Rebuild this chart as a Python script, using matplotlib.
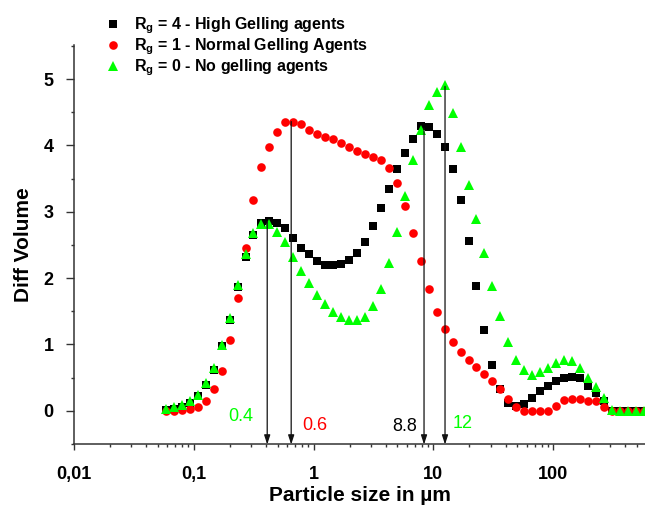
import numpy as np
import matplotlib
matplotlib.use("Agg")
import matplotlib.pyplot as plt
from matplotlib.lines import Line2D
from matplotlib.ticker import LogLocator, NullFormatter, FixedLocator, FixedFormatter, MultipleLocator

plt.rcParams["font.family"] = ["Liberation Sans", "DejaVu Sans"]
plt.rcParams["mathtext.fontset"] = "custom"
plt.rcParams["mathtext.rm"] = "Liberation Sans:bold"
plt.rcParams["mathtext.it"] = "Liberation Sans:bold"

# particle size bins (um)
size_um = [0.0586, 0.0683, 0.0796, 0.0927, 0.108, 0.126, 0.147, 0.171, 0.199, 0.232,
           0.271, 0.315, 0.367, 0.428, 0.499, 0.581, 0.678, 0.790, 0.920, 1.072,
           1.250, 1.456, 1.697, 1.978, 2.305, 2.685, 3.129, 3.647, 4.250, 4.953,
           5.771, 6.726, 7.838, 9.131, 10.64, 12.40, 14.45, 16.84, 19.63, 22.87,
           26.65, 31.05, 36.19, 42.17, 49.14, 57.27, 66.73, 77.76, 90.62, 105.6,
           123.1, 143.4, 167.1, 194.8, 226.9, 264.5, 308.2, 359.2, 418.5, 487.7,
           568.3]

rg4_high = [0.01, 0.03, 0.06, 0.12, 0.22, 0.38, 0.62, 0.97, 1.37, 1.86,
            2.32, 2.65, 2.83, 2.86, 2.83, 2.75, 2.60, 2.45, 2.36, 2.26,
            2.20, 2.19, 2.21, 2.27, 2.38, 2.55, 2.78, 3.05, 3.35, 3.64,
            3.89, 4.09, 4.29, 4.28, 4.17, 3.97, 3.65, 3.17, 2.56, 1.88,
            1.22, 0.69, 0.32, 0.11, 0.07, 0.10, 0.19, 0.29, 0.37, 0.44,
            0.49, 0.51, 0.49, 0.37, 0.26, 0.14, 0.0, 0.0, 0.0, 0.0,
            0.0]

rg1_normal = [0.0, 0.0, 0.01, 0.03, 0.06, 0.15, 0.32, 0.60, 1.07, 1.70,
              2.46, 3.18, 3.68, 3.97, 4.20, 4.36, 4.35, 4.33, 4.23, 4.17,
              4.12, 4.09, 4.04, 3.97, 3.92, 3.87, 3.82, 3.78, 3.66, 3.43,
              3.09, 2.68, 2.25, 1.84, 1.49, 1.23, 1.03, 0.89, 0.76, 0.66,
              0.56, 0.45, 0.32, 0.18, 0.06, 0.0, 0.0, 0.0, 0.0, 0.07,
              0.16, 0.17, 0.17, 0.14, 0.14, 0.05, 0.0, 0.0, 0.0, 0.0,
              0.0]

rg0_none = [0.02, 0.05, 0.08, 0.15, 0.24, 0.41, 0.65, 0.99, 1.39, 1.90,
            2.36, 2.68, 2.82, 2.81, 2.70, 2.54, 2.32, 2.11, 1.92, 1.75,
            1.61, 1.49, 1.41, 1.36, 1.36, 1.42, 1.58, 1.84, 2.22, 2.70,
            3.24, 3.78, 4.24, 4.61, 4.80, 4.91, 4.49, 3.97, 3.41, 2.89,
            2.38, 1.88, 1.43, 1.04, 0.77, 0.61, 0.54, 0.59, 0.64, 0.72,
            0.76, 0.75, 0.65, 0.50, 0.35, 0.19, 0.01, 0.0, 0.0, 0.0,
            0.0]

# peak markers: arrow x, arrow top, label, label x, label y, colour
peak_x = [0.41, 0.65, 8.35, 12.5]
peak_top = [2.85, 4.36, 4.26, 4.89]
peak_labels = ["0.4", "0.6", "8.8", "12"]
label_x = [0.245, 1.03, 5.8, 17.7]
label_y = [-0.09, -0.23, -0.24, -0.19]

GREEN = "#00ff00"
RED = "#ff0000"
peak_colors = [GREEN, RED, "black", GREEN]

xtick_vals = [0.01, 0.1, 1, 10, 100]
xtick_text = ["0,01", "0,1", "1", "10", "100"]

fig = plt.figure(figsize=(6.45, 5.07), dpi=100)
ax = fig.add_axes([0.1147, 0.1233, 0.8853, 0.788])

ax.plot(size_um, rg4_high, ls="none", marker="s", ms=5.6, color="black", mew=0)
ax.plot(size_um, rg1_normal, ls="none", marker="o", ms=6.2, color=RED, mew=0)
ax.plot(size_um, rg0_none, ls="none", marker="^", ms=7.0, color=GREEN, mew=0)

ax.set_xscale("log")
ax.set_xlim(0.01, 10 ** 2.766)
ax.set_ylim(-0.51, 5.515)

for x, top in zip(peak_x, peak_top):
    ax.annotate("", xy=(x, -0.51), xytext=(x, top),
                arrowprops=dict(arrowstyle="-|>,head_length=0.55,head_width=0.18",
                                color="#111111", lw=0.9, shrinkA=0, shrinkB=0))
for t, x, y, c in zip(peak_labels, label_x, label_y, peak_colors):
    ax.text(x, y, t, color=c, fontsize=13, ha="center", va="center")

ax.spines["top"].set_visible(False)
ax.spines["right"].set_visible(False)
for s in ("left", "bottom"):
    ax.spines[s].set_linewidth(1.1)
    ax.spines[s].set_color("#333333")

ax.xaxis.set_major_locator(FixedLocator(xtick_vals))
ax.xaxis.set_major_formatter(FixedFormatter(xtick_text))
ax.xaxis.set_minor_locator(LogLocator(base=10, subs=np.arange(2, 10), numticks=20))
ax.xaxis.set_minor_formatter(NullFormatter())
ax.yaxis.set_major_locator(MultipleLocator(1))
ax.yaxis.set_minor_locator(MultipleLocator(0.5))

ax.tick_params(axis="both", which="both", direction="out", color="#333333", width=1.0)
ax.tick_params(axis="x", which="major", length=4.5, pad=11)
ax.tick_params(axis="x", which="minor", length=2.5)
ax.tick_params(axis="y", which="major", length=5.5, pad=9)
ax.tick_params(axis="y", which="minor", length=2.5)
for lab in ax.get_xticklabels() + ax.get_yticklabels():
    lab.set_fontsize(13)
    lab.set_fontweight("bold")

ax.set_xlabel("Particle size in µm", fontsize=15, fontweight="bold", labelpad=2)
ax.set_ylabel("Diff Volume", fontsize=15, fontweight="bold", labelpad=8)

handles = [
    Line2D([], [], ls="none", marker="s", ms=5.6, color="black", mew=0),
    Line2D([], [], ls="none", marker="o", ms=6.2, color=RED, mew=0),
    Line2D([], [], ls="none", marker="^", ms=7.0, color=GREEN, mew=0),
]
labels = [
    r"R$_\mathrm{g}$ = 4 - High Gelling agents",
    r"R$_\mathrm{g}$ = 1 - Normal Gelling Agents",
    r"R$_\mathrm{g}$ = 0 - No gelling agents",
]
leg = fig.legend(handles, labels, loc="upper left", bbox_to_anchor=(0.163, 0.969),
                 frameon=False, handlelength=1.0, handletextpad=0.8,
                 labelspacing=0.03, borderpad=0, borderaxespad=0,
                 prop={"size": 11.5, "weight": "bold"})

fig.savefig("out.png", dpi=100, facecolor="white")
